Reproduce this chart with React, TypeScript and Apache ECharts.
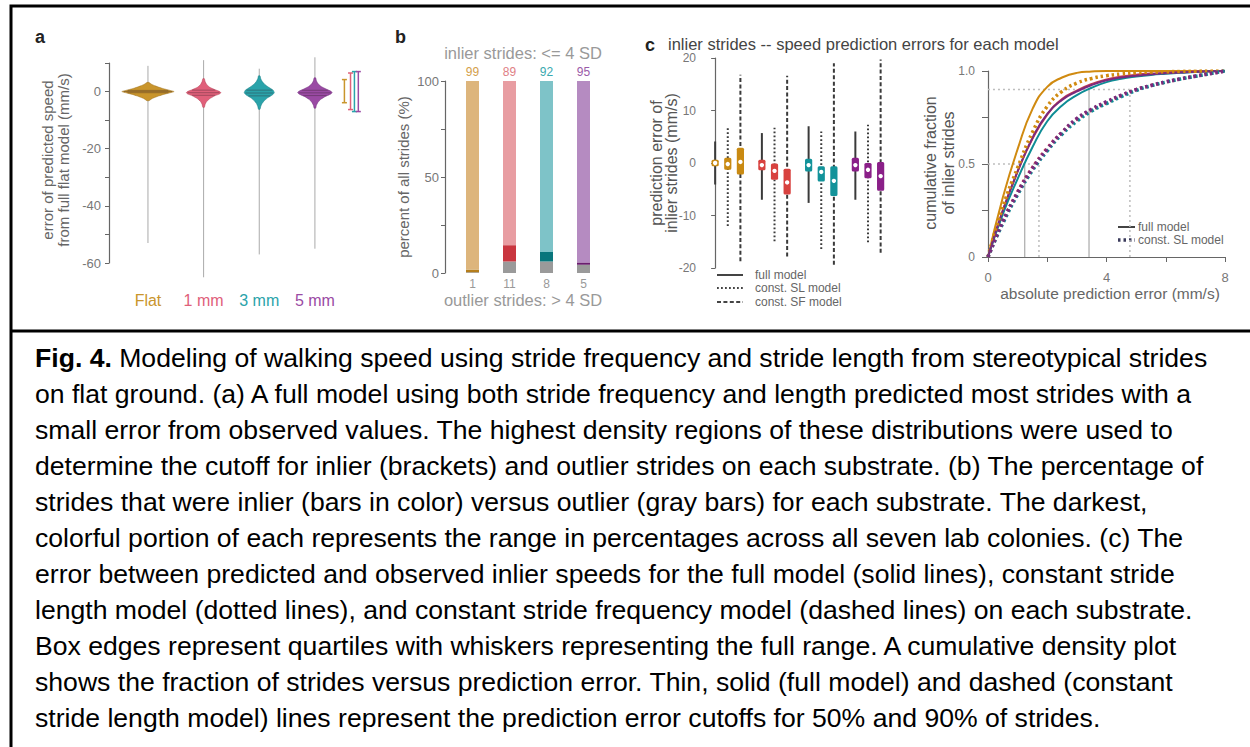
import React, { useEffect, useRef } from "react";
import * as echarts from "echarts";

const FONT = '"Liberation Sans", Arial, Helvetica, sans-serif';

// ---------- panel a : violins ----------
const substrates = ["Flat", "1 mm", "3 mm", "5 mm"];
const violinColors = ["#C9952C", "#E0607A", "#2AA3AA", "#9A4AA4"];
const violinEdge = ["#9A6D16", "#B23A50", "#117A80", "#6E2A78"];
const violinYFlat = [3.2, 2.5, 2, 1.5, 1, 0.5, 0, -0.5, -1, -1.5, -2, -2.5, -3.2];
const violinWFlat = [0.018, 0.07, 0.13, 0.2, 0.28, 0.38, 0.47, 0.38, 0.28, 0.2, 0.13, 0.07, 0.018];
const violinY1mm = [4.5, 3.5, 2.5, 1.5, 0.7, 0, -0.4, -0.8, -1.5, -2.5, -3.5, -4.5, -5.5];
const violinW1mm = [0.014, 0.027, 0.054, 0.11, 0.2, 0.29, 0.31, 0.29, 0.2, 0.11, 0.054, 0.027, 0.014];
const violinY3mm = [5.5, 4.5, 3.5, 2.5, 1.5, 0.5, -0.4, -1.2, -2.2, -3.2, -4.2, -5.2, -6.2];
const violinW3mm = [0.014, 0.027, 0.054, 0.1, 0.17, 0.25, 0.27, 0.235, 0.15, 0.09, 0.05, 0.027, 0.014];
const violinY5mm = [4.8, 3.8, 2.8, 1.8, 0.9, 0.1, -0.4, -0.9, -1.8, -2.8, -3.8, -4.8, -5.8];
const violinW5mm = [0.014, 0.027, 0.054, 0.11, 0.2, 0.29, 0.31, 0.28, 0.18, 0.1, 0.054, 0.027, 0.014];
const violinQuartiles = [[-0.4, 0, 0.4], [-1.3, -0.4, 0.5], [-1.5, -0.5, 0.5], [-1.4, -0.45, 0.45]];
const tailMax = [9, 11, 8, 12];
const tailMin = [-53, -65, -57, -55];
const inlierLow = [-3.9, -6.3, -7, -7];
const inlierHigh = [4.2, 6.5, 7, 7];
const violinYs = [violinYFlat, violinY1mm, violinY3mm, violinY5mm];
const violinWs = [violinWFlat, violinW1mm, violinW3mm, violinW5mm];

// ---------- panel b : stacked bars ----------
const inlierPct = [99, 89, 92, 95];
const outlierPct = [1, 11, 8, 5];
const greyPart = [0.4, 6, 6, 4.3];
const darkPart = [1.4, 8.5, 5, 1.2];
const lightPart = [98.2, 85.5, 89, 94.5];
const darkColors = ["#B57E1C", "#C9363F", "#08767C", "#6A1E6E"];
const lightColors = ["#DDB57C", "#E89DA2", "#7EC3C8", "#B58BC1"];
const labelColors = ["#D4A04C", "#E07F86", "#3AA9AF", "#9A5AA8"];

// ---------- panel c : box plots  [min, q1, median, q3, max] ----------
const boxFull = [[-4.1, -0.6, 0, 0.6, 4.1], [-7, -1.4, -0.4, 0.6, 5.7], [-7.6, -1.6, -0.4, 0.8, 7], [-7, -1.6, -0.4, 1, 6]];
const boxSL = [[-12, -1.3, -0.2, 1, 6.7], [-14.9, -3.2, -1.5, -0.1, 6.7], [-16.4, -3.5, -1.7, -0.6, 6], [-15.1, -2.9, -1.3, 0, 7.3]];
const boxSF = [[-18.7, -2.2, 0.2, 2.9, 16.8], [-17.8, -6, -3.7, -1.1, 16.6], [-19.4, -6.3, -3.4, -0.6, 19], [-17.1, -5.3, -2.5, 0.2, 19.7]];
const boxColors = ["#C98A12", "#D8423F", "#13939A", "#8A1F88"];

// ---------- panel c : cumulative fraction ----------
const cdfX = [0, 0.5, 1, 1.5, 2, 2.5, 3, 3.5, 4, 4.5, 5, 5.5, 6, 6.5, 7, 7.5, 8];
const cdfFullFlat = [0, 0.32, 0.58, 0.795, 0.915, 0.965, 0.99, 0.997, 1, 1, 1, 1, 1, 1, 1, 1, 1];
const cdfFull1mm = [0, 0.25, 0.46, 0.635, 0.765, 0.85, 0.895, 0.93, 0.955, 0.97, 0.98, 0.986, 0.99, 0.994, 0.997, 0.999, 1];
const cdfFull3mm = [0, 0.23, 0.42, 0.59, 0.73, 0.815, 0.87, 0.91, 0.94, 0.958, 0.97, 0.979, 0.985, 0.99, 0.995, 0.998, 1];
const cdfFull5mm = [0, 0.25, 0.46, 0.64, 0.77, 0.845, 0.89, 0.925, 0.95, 0.965, 0.975, 0.982, 0.988, 0.992, 0.996, 0.998, 1];
const cdfSLFlat = [0, 0.27, 0.48, 0.67, 0.81, 0.89, 0.935, 0.96, 0.975, 0.984, 0.99, 0.994, 0.996, 0.998, 0.999, 1, 1];
const cdfSL1mm = [0, 0.19, 0.35, 0.48, 0.585, 0.67, 0.74, 0.79, 0.83, 0.868, 0.9, 0.922, 0.94, 0.957, 0.972, 0.986, 1];
const cdfSL3mm = [0, 0.18, 0.335, 0.465, 0.57, 0.66, 0.73, 0.785, 0.825, 0.862, 0.895, 0.92, 0.94, 0.957, 0.971, 0.986, 1];
const cdfSL5mm = [0, 0.19, 0.345, 0.475, 0.58, 0.67, 0.745, 0.795, 0.835, 0.87, 0.9, 0.922, 0.942, 0.958, 0.972, 0.986, 1];
const cdfColors = ["#D08A10", "#C43A50", "#0E8C95", "#7B2A7D"];
const fullCutoffs = [1.24, 3.41];
const slCutoffs = [1.72, 4.79];
const cutoffLevels = [0.5, 0.9];

const captionLines = [
  "{b|Fig. 4.} Modeling of walking speed using stride frequency and stride length from stereotypical strides",
  "on flat ground. (a) A full model using both stride frequency and length predicted most strides with a",
  "small error from observed values. The highest density regions of these distributions were used to",
  "determine the cutoff for inlier (brackets) and outlier strides on each substrate. (b) The percentage of",
  "strides that were inlier (bars in color) versus outlier (gray bars) for each substrate. The darkest,",
  "colorful portion of each represents the range in percentages across all seven lab colonies. (c) The",
  "error between predicted and observed inlier speeds for the full model (solid lines), constant stride",
  "length model (dotted lines), and constant stride frequency model (dashed lines) on each substrate.",
  "Box edges represent quartiles with whiskers representing the full range. A cumulative density plot",
  "shows the fraction of strides versus prediction error. Thin, solid (full model) and dashed (constant",
  "stride length model) lines represent the prediction error cutoffs for 50% and 90% of strides.",
];

function widthAt(ys: number[], ws: number[], y: number) {
  for (let k = 0; k < ys.length - 1; k++) {
    if (y <= ys[k] && y >= ys[k + 1]) {
      const t = (ys[k] - y) / (ys[k] - ys[k + 1]);
      return ws[k] + t * (ws[k + 1] - ws[k]);
    }
  }
  return 0;
}

const tickLabel = { color: "#777", fontSize: 13, fontFamily: FONT };
const axisLine = { show: true, lineStyle: { color: "#666", width: 1.2 } };

function buildOption() {
  const boxData: number[][] = [];
  [boxFull, boxSL, boxSF].forEach((arr, m) => {
    arr.forEach((b, g) => {
      boxData.push([g * 3.7 + m, b[0], b[1], b[2], b[3], b[4], g, m]);
    });
  });
  const fullSets = [cdfFullFlat, cdfFull1mm, cdfFull3mm, cdfFull5mm];
  const slSets = [cdfSLFlat, cdfSL1mm, cdfSL3mm, cdfSL5mm];

  const series: any[] = [];

  // violins
  series.push({
    type: "custom",
    xAxisIndex: 0,
    yAxisIndex: 0,
    clip: false,
    silent: true,
    data: substrates.map((s, i) => [i + 1, 0]),
    renderItem: (params: any, api: any) => {
      const i = params.dataIndex;
      const cx = api.value(0);
      const ys = violinYs[i];
      const ws = violinWs[i];
      const left = ys.map((y, k) => api.coord([cx - ws[k], y]));
      const right = ys.map((y, k) => api.coord([cx + ws[k], y])).reverse();
      const top = api.coord([cx, tailMax[i]]);
      const bot = api.coord([cx, tailMin[i]]);
      const children: any[] = [
        { type: "line", shape: { x1: top[0], y1: top[1], x2: bot[0], y2: bot[1] }, style: { stroke: "#aaa", lineWidth: 1 } },
        { type: "polygon", shape: { points: [...left, ...right], smooth: 0.15 }, style: { fill: violinColors[i], stroke: violinEdge[i], lineWidth: 0.5 } },
      ];
      violinQuartiles[i].forEach((q) => {
        const w = widthAt(ys, ws, q) * 0.92;
        const a = api.coord([cx - w, q]);
        const b = api.coord([cx + w, q]);
        children.push({ type: "line", shape: { x1: a[0], y1: a[1], x2: b[0], y2: b[1] }, style: { stroke: "rgba(50,30,40,0.45)", lineWidth: 0.8 } });
      });
      const lab = api.coord([cx, -60]);
      children.push({
        type: "text",
        x: lab[0],
        y: lab[1] + 37,
        style: { text: substrates[i], fill: violinColors[i], fontSize: 16, fontFamily: FONT, align: "center", verticalAlign: "middle" },
      });
      return { type: "group", children };
    },
  });

  // inlier brackets
  const bracketX = [4.53, 4.64, 4.71, 4.78];
  series.push({
    type: "custom",
    xAxisIndex: 0,
    yAxisIndex: 0,
    clip: false,
    silent: true,
    data: substrates.map((s, i) => [bracketX[i], inlierLow[i], inlierHigh[i]]),
    renderItem: (params: any, api: any) => {
      const i = params.dataIndex;
      const lo = api.coord([api.value(0), api.value(1)]);
      const hi = api.coord([api.value(0), api.value(2)]);
      const st = { stroke: violinColors[i], lineWidth: 1.5 };
      return {
        type: "group",
        children: [
          { type: "line", shape: { x1: lo[0], y1: lo[1], x2: hi[0], y2: hi[1] }, style: st },
          { type: "line", shape: { x1: lo[0] - 2.5, y1: lo[1], x2: lo[0] + 2.5, y2: lo[1] }, style: st },
          { type: "line", shape: { x1: hi[0] - 2.5, y1: hi[1], x2: hi[0] + 2.5, y2: hi[1] }, style: st },
        ],
      };
    },
  });

  // bars
  series.push({
    type: "bar", xAxisIndex: 1, yAxisIndex: 1, stack: "b", barWidth: 13, silent: true,
    data: greyPart.map((v) => ({ value: v, itemStyle: { color: "#9a9a9a" } })),
  });
  series.push({
    type: "bar", xAxisIndex: 1, yAxisIndex: 1, stack: "b", barWidth: 13, silent: true,
    data: darkPart.map((v, i) => ({ value: v, itemStyle: { color: darkColors[i] } })),
  });
  series.push({
    type: "bar", xAxisIndex: 1, yAxisIndex: 1, stack: "b", barWidth: 13, silent: true,
    data: lightPart.map((v, i) => ({ value: v, itemStyle: { color: lightColors[i] }, label: { color: labelColors[i] } })),
    label: {
      show: true, position: "top", distance: 3, fontSize: 12, fontFamily: FONT,
      formatter: (p: any) => String(inlierPct[p.dataIndex]),
    },
  });

  // box plots
  const dashes = [null, [1.8, 2.2], [4, 2.4]];
  series.push({
    type: "custom",
    xAxisIndex: 2,
    yAxisIndex: 2,
    clip: false,
    silent: true,
    data: boxData,
    renderItem: (params: any, api: any) => {
      const x = api.value(0);
      const g = api.value(6);
      const m = api.value(7);
      const pLo = api.coord([x, api.value(1)]);
      const pQ1 = api.coord([x, api.value(2)]);
      const pMed = api.coord([x, api.value(3)]);
      const pQ3 = api.coord([x, api.value(4)]);
      const pHi = api.coord([x, api.value(5)]);
      const ws: any = { stroke: "#3a3a3a", lineWidth: 2 };
      if (dashes[m]) ws.lineDash = dashes[m];
      return {
        type: "group",
        children: [
          { type: "line", shape: { x1: pLo[0], y1: pLo[1], x2: pHi[0], y2: pHi[1] }, style: ws },
          { type: "rect", shape: { x: pQ3[0] - 3.6, y: pQ3[1], width: 7.2, height: pQ1[1] - pQ3[1], r: 1.5 }, style: { fill: boxColors[g] } },
          { type: "circle", shape: { cx: pMed[0], cy: pMed[1], r: 2.2 }, style: { fill: "#fff" } },
        ],
      };
    },
  });

  // cdf lines
  fullSets.forEach((arr, i) => {
    series.push({
      type: "line", xAxisIndex: 3, yAxisIndex: 3, silent: true, symbol: "none", smooth: 0.5,
      data: cdfX.map((x, k) => [x, arr[k]]),
      lineStyle: { color: cdfColors[i], width: 2 },
      z: 3,
    });
  });
  slSets.forEach((arr, i) => {
    series.push({
      type: "line", xAxisIndex: 3, yAxisIndex: 3, silent: true, symbol: "none", smooth: 0.5,
      data: cdfX.map((x, k) => [x, arr[k]]),
      lineStyle: { color: cdfColors[i], width: 3.5, type: [2.5, 3] },
      z: 4,
    });
  });
  // cutoff reference lines
  const refLine = (data: number[][], dotted: boolean) => ({
    type: "line", xAxisIndex: 3, yAxisIndex: 3, silent: true, symbol: "none", clip: false,
    data,
    lineStyle: dotted ? { color: "#bdbdbd", width: 1.5, type: [2, 3] } : { color: "#aaa", width: 1.2 },
    z: 2,
  });
  fullCutoffs.forEach((c, k) => series.push(refLine([[c, 0], [c, cutoffLevels[k]]], false)));
  slCutoffs.forEach((c, k) => {
    series.push(refLine([[c, 0], [c, cutoffLevels[k]]], true));
    series.push(refLine([[-0.17, cutoffLevels[k]], [c, cutoffLevels[k]]], true));
  });

  const txt = (text: string, x: number, y: number, o: any = {}) => ({
    type: "text",
    x, y,
    rotation: o.rotation || 0,
    style: {
      text, fill: o.fill || "#666", fontSize: o.fontSize || 14, fontFamily: FONT, fontWeight: o.fontWeight || "normal",
      align: o.align || "center", verticalAlign: o.verticalAlign || "middle", lineHeight: o.lineHeight,
      rich: o.rich,
    },
    silent: true,
  });
  const legLine = (x1: number, x2: number, y: number, style: any) => ({
    type: "line", shape: { x1, y1: y, x2, y2: y }, style, silent: true,
  });

  const graphic: any[] = [
    { type: "rect", shape: { x: 11, y: 6, width: 1260, height: 760 }, style: { fill: "none", stroke: "#000", lineWidth: 3 }, silent: true },
    { type: "line", shape: { x1: 11, y1: 331, x2: 1250, y2: 331 }, style: { stroke: "#000", lineWidth: 3 }, silent: true },
    txt("a", 35, 37, { fill: "#222", fontSize: 18, fontWeight: "bold", align: "left" }),
    txt("b", 395, 37, { fill: "#222", fontSize: 18, fontWeight: "bold", align: "left" }),
    txt("c", 645, 45, { fill: "#222", fontSize: 18, fontWeight: "bold", align: "left" }),
    txt("error of predicted speed\nfrom full flat model (mm/s)", 55, 160, { rotation: Math.PI / 2, fontSize: 15, lineHeight: 16 }),
    txt("inlier strides: <= 4 SD", 523, 53, { fill: "#999", fontSize: 16.5 }),
    txt("outlier strides: > 4 SD", 523, 300, { fill: "#999", fontSize: 16.5 }),
    txt("percent of all strides (%)", 403, 177, { rotation: Math.PI / 2, fontSize: 15 }),
    txt("inlier strides -- speed prediction errors for each model", 668, 44, { fill: "#444", fontSize: 16.5, align: "left" }),
    txt("prediction error of\ninlier strides (mm/s)", 664, 163, { rotation: Math.PI / 2, fontSize: 16, lineHeight: 15, fill: "#555" }),
    txt("cumulative fraction\nof inlier strides", 939, 163, { rotation: Math.PI / 2, fontSize: 16, lineHeight: 18, fill: "#555" }),
    txt("absolute prediction error (mm/s)", 1110, 293, { fontSize: 15.5 }),
    legLine(717, 743, 275, { stroke: "#444", lineWidth: 2 }),
    legLine(717, 743, 288, { stroke: "#444", lineWidth: 2, lineDash: [1.8, 2.2] }),
    legLine(717, 743, 302, { stroke: "#444", lineWidth: 2, lineDash: [4, 2.4] }),
    txt("full model", 755, 275, { fontSize: 12, align: "left" }),
    txt("const. SL model", 755, 288, { fontSize: 12, align: "left" }),
    txt("const. SF model", 755, 302, { fontSize: 12, align: "left" }),
    legLine(1118, 1135, 227, { stroke: "#444", lineWidth: 2 }),
    legLine(1118, 1135, 240, { stroke: "#3b3b5c", lineWidth: 3.5, lineDash: [2.5, 3] }),
    txt("full model", 1138, 227, { fontSize: 12, align: "left" }),
    txt("const. SL model", 1138, 240, { fontSize: 12, align: "left" }),
  ];
  captionLines.forEach((line, k) => {
    graphic.push(
      txt(line, 35, 358 + 36 * k, {
        fill: "#000", fontSize: 26.6, align: "left",
        rich: { b: { fontWeight: "bold", fontSize: 26.6, fontFamily: FONT, fill: "#000" } },
      })
    );
  });

  return {
    animation: false,
    backgroundColor: "#fff",
    textStyle: { fontFamily: FONT },
    grid: [
      { left: 109, top: 63, width: 256, height: 200 },
      { left: 454, top: 81, width: 148, height: 192 },
      { left: 702, top: 58, width: 190, height: 210 },
      { left: 988, top: 71, width: 237, height: 186 },
    ],
    xAxis: [
      { type: "value", gridIndex: 0, min: 0.3, max: 4.9, show: false },
      {
        type: "category", gridIndex: 1, data: substrates,
        axisLine: { show: false }, axisTick: { show: false },
        axisLabel: { color: "#999", fontSize: 12, fontFamily: FONT, margin: 5, formatter: (v: any, idx: number) => String(outlierPct[idx]) },
      },
      { type: "value", gridIndex: 2, min: -1.04, max: 14, show: false },
      {
        type: "value", gridIndex: 3, min: 0, max: 8, interval: 2, offset: 8,
        axisLine, axisTick: { show: true, length: 5, lineStyle: { color: "#666" } }, splitLine: { show: false },
        axisLabel: { ...tickLabel, margin: 6, formatter: (v: number) => (v % 4 === 0 ? String(v) : "") },
      },
    ],
    yAxis: [
      {
        type: "value", gridIndex: 0, min: -60, max: 10, interval: 10,
        axisLine, axisTick: { show: true, length: 4, lineStyle: { color: "#666" } }, splitLine: { show: false },
        axisLabel: { ...tickLabel, margin: 8, formatter: (v: number) => (v % 20 === 0 ? String(v) : "") },
      },
      {
        type: "value", gridIndex: 1, min: 0, max: 100, interval: 25, offset: 9,
        axisLine, axisTick: { show: true, length: 4, lineStyle: { color: "#666" } }, splitLine: { show: false },
        axisLabel: { ...tickLabel, margin: 6, formatter: (v: number) => (v % 50 === 0 ? String(v) : "") },
      },
      {
        type: "value", gridIndex: 2, min: -20, max: 20, interval: 10,
        axisLine, axisTick: { show: true, length: 4, lineStyle: { color: "#666" } }, splitLine: { show: false },
        axisLabel: { ...tickLabel, fontSize: 12, margin: 6 },
      },
      {
        type: "value", gridIndex: 3, min: 0, max: 1, interval: 0.25, offset: 5,
        axisLine, axisTick: { show: true, length: 6, lineStyle: { color: "#666" } }, splitLine: { show: false },
        axisLabel: { ...tickLabel, fontSize: 12, margin: 8, formatter: (v: number) => (v === 1 ? "1.0" : v === 0.5 ? "0.5" : v === 0 ? "0" : "") },
      },
    ],
    series,
    graphic,
  };
}

export default function App() {
  const ref = useRef<HTMLDivElement>(null);
  useEffect(() => {
    const chart = echarts.init(ref.current!, null, { renderer: "svg" });
    chart.setOption(buildOption() as any);
    return () => chart.dispose();
  }, []);
  return (
    <div
      ref={ref}
      style={{ position: "absolute", left: 0, top: 0, width: 1250, height: 747, background: "#fff" }}
    />
  );
}
